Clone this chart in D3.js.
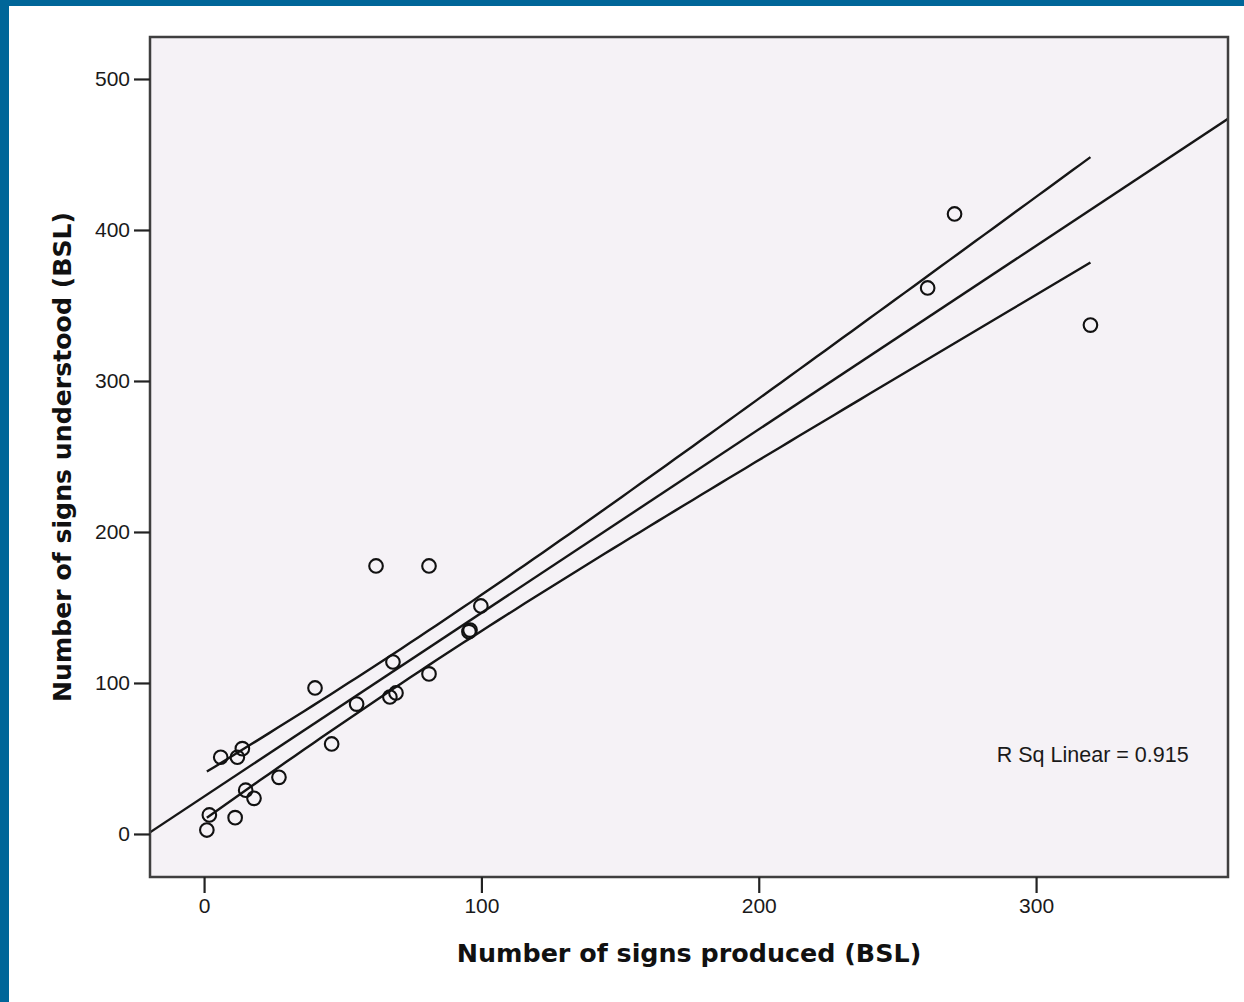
<!DOCTYPE html>
<html>
<head>
<meta charset="utf-8">
<script src="https://cdn.jsdelivr.net/npm/d3@7"></script>
<style>
  html, body { margin: 0; padding: 0; background: #fff; }
  svg { display: block; }
</style>
</head>
<body>
<svg id="chart"></svg>
<script>
// values (signs produced vs understood, BSL)
const producedSigns = [270.6, 260.9, 319.6, 62, 81.1, 99.8, 95.9, 95.5, 68.1, 81.1, 40, 67,
  69.2, 55, 46, 27, 13.8, 12, 6, 15, 18, 1.9, 11.2, 1];
const understoodSigns = [410.6, 361.6, 337, 177.5, 177.5, 151, 135, 134, 113.9, 106, 96.7, 90.7,
  93.4, 86, 59.6, 37.5, 56.5, 50.8, 50.8, 29, 23.6, 12.6, 10.8, 2.6];

const xTicks = [0, 100, 200, 300];
const yTicks = [0, 100, 200, 300, 400, 500];
const xDomain = [-19.5, 369.2];
const yDomain = [-28.5, 527.8];

const xTitle = "Number of signs produced (BSL)";
const yTitle = "Number of signs understood (BSL)";
const rSqLabel = "R Sq Linear = 0.915";
const tCrit = 1.717; // 90% mean interval, df = 22

const W = 1244, H = 1002;
const plot = { left: 150, right: 1228, top: 37, bottom: 877 };

const svg = d3.select("#chart").attr("width", W).attr("height", H);

// blue page frame
svg.append("rect").attr("x", 0).attr("y", 0).attr("width", W).attr("height", 6).attr("fill", "#006699");
svg.append("rect").attr("x", 0).attr("y", 0).attr("width", 9).attr("height", H).attr("fill", "#006699");

const x = d3.scaleLinear().domain(xDomain).range([plot.left, plot.right]);
const y = d3.scaleLinear().domain(yDomain).range([plot.bottom, plot.top]);

svg.append("defs").append("clipPath").attr("id", "clip")
  .append("rect")
  .attr("x", plot.left).attr("y", plot.top)
  .attr("width", plot.right - plot.left).attr("height", plot.bottom - plot.top);

svg.append("rect")
  .attr("x", plot.left).attr("y", plot.top)
  .attr("width", plot.right - plot.left).attr("height", plot.bottom - plot.top)
  .attr("fill", "#f5f2f6");

// least squares fit + mean interval
const n = producedSigns.length;
const mx = d3.mean(producedSigns), my = d3.mean(understoodSigns);
let sxx = 0, sxy = 0, syy = 0;
producedSigns.forEach((v, i) => {
  sxx += (v - mx) ** 2;
  sxy += (v - mx) * (understoodSigns[i] - my);
  syy += (understoodSigns[i] - my) ** 2;
});
const slope = sxy / sxx;
const intercept = my - slope * mx;
const s = Math.sqrt((syy - slope * sxy) / (n - 2));
const fit = (v) => intercept + slope * v;
const half = (v) => tCrit * s * Math.sqrt(1 / n + (v - mx) ** 2 / sxx);

const g = svg.append("g").attr("clip-path", "url(#clip)");
const line = d3.line().x((d) => x(d[0])).y((d) => y(d[1]));

g.append("path")
  .datum(xDomain.map((v) => [v, fit(v)]))
  .attr("d", line)
  .attr("fill", "none").attr("stroke", "#161616").attr("stroke-width", 2.4);

const [xmin, xmax] = d3.extent(producedSigns);
const bandX = d3.range(0, 101).map((k) => xmin + (xmax - xmin) * k / 100);
[1, -1].forEach((sign) => {
  g.append("path")
    .datum(bandX.map((v) => [v, fit(v) + sign * half(v)]))
    .attr("d", line)
    .attr("fill", "none").attr("stroke", "#161616").attr("stroke-width", 2.4);
});

g.selectAll("circle")
  .data(producedSigns)
  .join("circle")
  .attr("cx", (d) => x(d))
  .attr("cy", (d, i) => y(understoodSigns[i]))
  .attr("r", 6.8)
  .attr("fill", "none")
  .attr("stroke", "#111")
  .attr("stroke-width", 2.1);

g.append("text")
  .attr("x", x(355))
  .attr("y", y(47.7))
  .attr("text-anchor", "end")
  .attr("font-family", "Liberation Sans, Arial, sans-serif")
  .attr("font-size", 21.5)
  .attr("fill", "#1a1a1a")
  .text(rSqLabel);

// frame
svg.append("rect")
  .attr("x", plot.left).attr("y", plot.top)
  .attr("width", plot.right - plot.left).attr("height", plot.bottom - plot.top)
  .attr("fill", "none").attr("stroke", "#3f3f3f").attr("stroke-width", 2.5);

// axes
const xAxis = svg.append("g")
  .attr("transform", `translate(0, ${plot.bottom})`)
  .call(d3.axisBottom(x).tickValues(xTicks).tickSize(16).tickPadding(5).tickSizeOuter(0));
const yAxis = svg.append("g")
  .attr("transform", `translate(${plot.left}, 0)`)
  .call(d3.axisLeft(y).tickValues(yTicks).tickSize(16).tickPadding(4).tickSizeOuter(0));

[xAxis, yAxis].forEach((ax) => {
  ax.select(".domain").remove();
  ax.selectAll(".tick line").attr("stroke", "#222").attr("stroke-width", 2.2);
  ax.selectAll(".tick text")
    .attr("font-family", "Liberation Sans, Arial, sans-serif")
    .attr("font-size", 21)
    .attr("fill", "#1a1a1a");
});

svg.append("text")
  .attr("x", (plot.left + plot.right) / 2)
  .attr("y", 962)
  .attr("text-anchor", "middle")
  .attr("font-family", "DejaVu Sans, sans-serif")
  .attr("font-weight", "bold")
  .attr("font-size", 25.4)
  .attr("fill", "#111")
  .text(xTitle);

svg.append("text")
  .attr("transform", `translate(71, ${(plot.top + plot.bottom) / 2}) rotate(-90)`)
  .attr("text-anchor", "middle")
  .attr("font-family", "DejaVu Sans, sans-serif")
  .attr("font-weight", "bold")
  .attr("font-size", 25.2)
  .attr("fill", "#111")
  .text(yTitle);
</script>
</body>
</html>
